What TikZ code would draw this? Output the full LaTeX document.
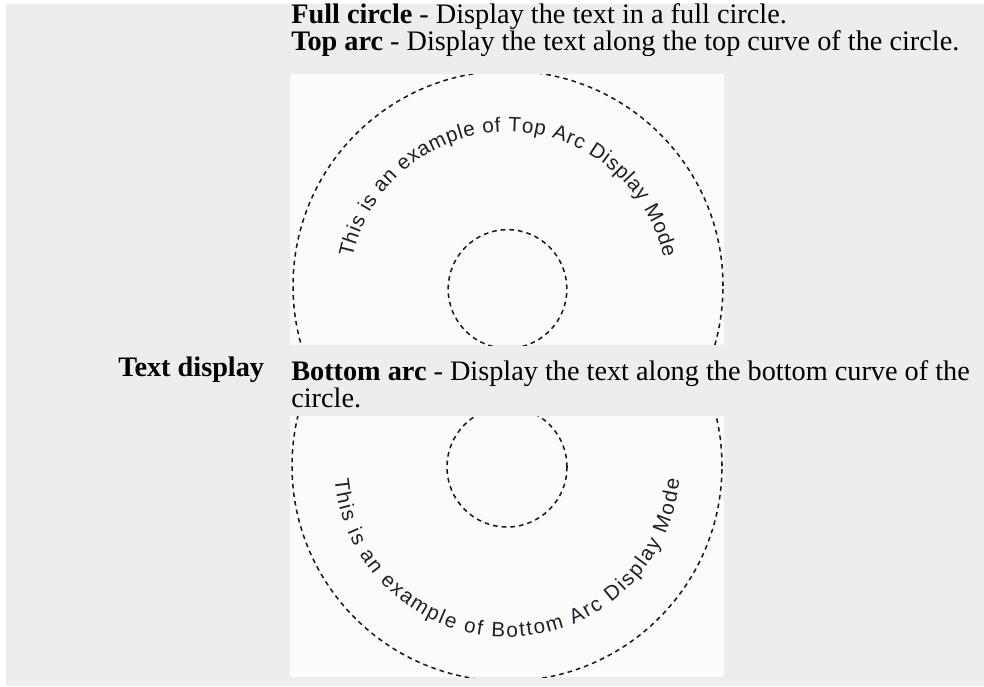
\documentclass[tikz,border=0pt]{standalone}
\usepackage{fontspec}
\setmainfont{Liberation Serif}
\newfontfamily\arcfont{Liberation Sans}
\usetikzlibrary{decorations.text}
\definecolor{bggray}{RGB}{237,237,237}
\definecolor{panelwhite}{RGB}{250,252,250}
\definecolor{dashcol}{RGB}{25,25,25}
\definecolor{arcink}{RGB}{30,30,45}
\newcommand\arcstyle{\arcfont\fontsize{15.5}{18}\selectfont\color{arcink}}
\begin{document}
\begin{tikzpicture}[x=0.75pt,y=0.75pt,
  maintext/.style={anchor=base west, inner sep=0pt, font=\fontsize{21.2}{25}\selectfont},
  panel/.style={fill=panelwhite, draw=none},
  dashcirc/.style={draw=dashcol, line width=1.15pt, dash pattern=on 3.5pt off 3pt},
  arctext/.style={decorate, decoration={text along path, text align={fit to path},
     text format delimiters={|}{|}, text={#1}}}
]
\useasboundingbox (0,0) rectangle (984,-686);
\fill[white] (0,0) rectangle (984,-686);
\fill[bggray] (6,-4) rectangle (984,-686);

\node[maintext] (full) at (291,-23) {\textbf{Full circle} - Display the text in a full circle.};
\node[maintext] (top) at (291,-50) {\textbf{Top arc} - Display the text along the top curve of the circle.};
\node[maintext] (label) at (118,-376) {\textbf{Text display}};
\node[maintext] (bot1) at (291,-380) {\textbf{Bottom arc} - Display the text along the bottom curve of the};
\node[maintext] (bot2) at (291,-407) {circle.};

% top panel
\path[panel] (290,-74) rectangle (724,-345);
\begin{scope}
  \clip (290,-74) rectangle (724,-345);
  \draw[dashcirc] (508,-286) circle[radius=161.25pt];
  \draw[dashcirc] (507.5,-289) circle[radius=44.5pt];
\end{scope}
\path[arctext={|\arcstyle|This is an example of Top Arc Display Mode}]
  (508,-291) ++(168:119.25pt) arc[start angle=168, end angle=12, radius=119.25pt];

% bottom panel
\path[panel] (290,-416) rectangle (724,-677);
\begin{scope}
  \clip (290,-416) rectangle (724,-677);
  \draw[dashcirc] (507,-466) circle[radius=161.25pt];
  \draw[dashcirc] (507,-467) circle[radius=45pt];
\end{scope}
\path[arctext={|\arcstyle|This is an example of Bottom Arc Display Mode}]
  (507,-464) ++(185:129.75pt) arc[start angle=185, end angle=355, radius=129.75pt];
\end{tikzpicture}
\end{document}
